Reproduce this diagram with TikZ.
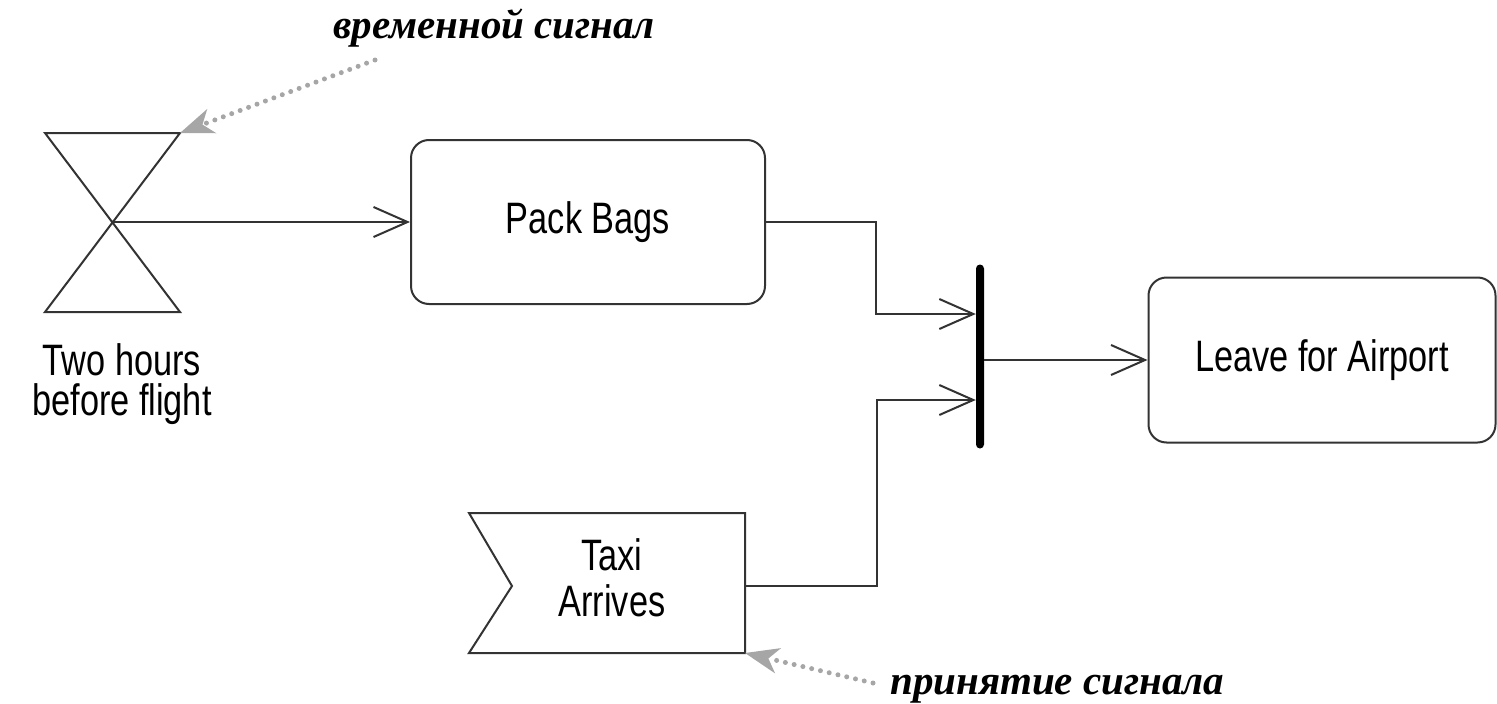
\documentclass[tikz,border=0pt]{standalone}
\usepackage{fontspec}
\setmainfont{Liberation Sans}
\newfontfamily\labelfont[FakeStretch=0.78]{Liberation Sans}
\newfontfamily\notefont{Liberation Serif}
\usetikzlibrary{arrows.meta}
\begin{document}
\begin{tikzpicture}[x=1pt,y=-1pt,
  ink/.style={draw=black!80,line width=2pt},
  actbox/.style={ink,rounded corners=18pt,align=center,
    font=\labelfont\fontsize{44}{46}\selectfont,inner sep=0pt},
  plain/.style={align=center,inner sep=0pt,font=\labelfont\fontsize{44}{40}\selectfont},
  flow/.style={ink,-{Straight Barb[length=34pt,width=30pt,line width=2pt]}},
  joinbar/.style={fill=black,draw=none,rounded corners=4pt,inner sep=0pt,
    minimum width=8pt,minimum height=184pt},
  note/.style={font=\notefont\bfseries\itshape\fontsize{41}{43}\selectfont,inner sep=0pt},
  notearrow/.style={draw=black!35,line width=5pt,line cap=round,
    dash pattern=on 0pt off 9pt,
    -{Stealth[length=34pt,width=26pt,inset=10pt,line width=0pt,fill=black!35,round]}}
]
\useasboundingbox (0,0) rectangle (1497,704);

% time event: hourglass
\coordinate (hg) at (113,222);
\coordinate (hgtl) at (45,133);
\coordinate (hgtr) at (180,133);
\coordinate (hgbl) at (45,312);
\coordinate (hgbr) at (180,312);
\draw[ink,line join=miter] (hgtl) -- (hgtr) -- (hgbl) -- (hgbr) -- cycle;
\node[plain] (hglabel) at (122,384) {Two hours\\before flight};

% actions
\node[actbox,minimum width=354pt,minimum height=164pt] (pack) at (588,222) {Pack Bags};
\node[actbox,minimum width=347pt,minimum height=165pt] (leave) at (1322,360) {Leave for Airport};

% join bar
\node[joinbar] (join) at (980,356.5) {};

% accept event signal
\coordinate (taxitl) at (469,513);
\coordinate (taxitr) at (745,513);
\coordinate (taxibr) at (745,653);
\coordinate (taxibl) at (469,653);
\coordinate (taxinotch) at (512,586);
\draw[ink,line join=miter] (taxitl) -- (taxitr) -- (taxibr) -- (taxibl) -- (taxinotch) -- cycle;
\node[plain,font=\labelfont\fontsize{44}{46}\selectfont] (taxi) at (612,578) {Taxi\\Arrives};
\coordinate (taxiout) at (745,586);

% flows
\draw[flow] (hg) -- (pack.west);
\draw[flow] (pack.east) -- ++(110,0) |- ([yshift=42.5pt]join.west);
\draw[flow] (taxiout) -- ++(132,0) |- ([yshift=-43.5pt]join.west);
\draw[flow] (join.east |- leave.west) -- (leave.west);

% annotations
\node[note,anchor=base west] (timenote) at (333,38) {временной сигнал};
\coordinate (timenotestart) at (375,60);
\draw[notearrow] (timenotestart) -- (hgtr);

\node[note,anchor=base west] (acceptnote) at (890,694) {принятие сигнала};
\coordinate (acceptnotestart) at (873,683);
\draw[notearrow] (acceptnotestart) -- (taxibr);
\end{tikzpicture}
\end{document}
